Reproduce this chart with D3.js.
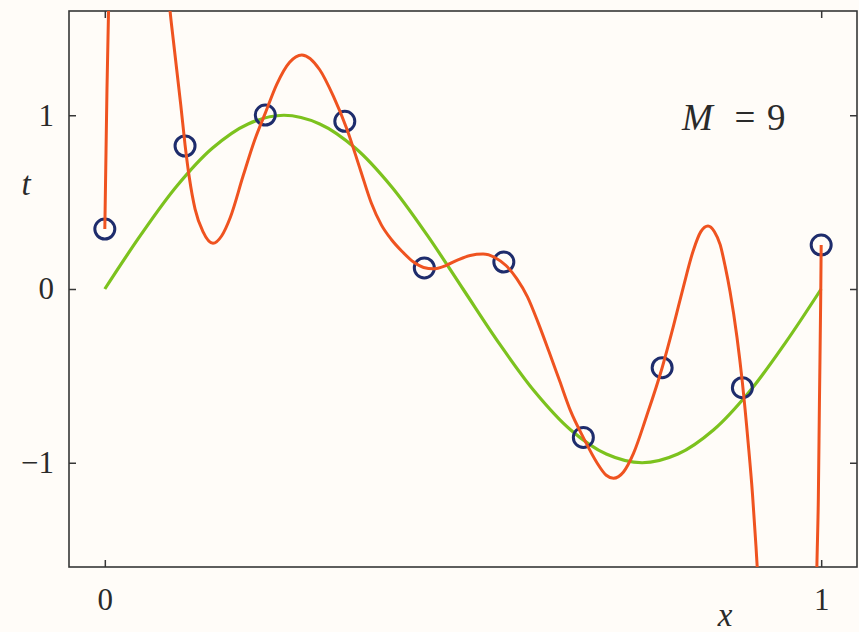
<!DOCTYPE html>
<html>
<head>
<meta charset="utf-8">
<script src="https://cdn.jsdelivr.net/npm/d3@7"></script>
<style>
  html, body { margin: 0; padding: 0; background: #fffcf8; }
  svg { display: block; }
  text { font-family: "Liberation Serif", "Times New Roman", serif; fill: #2a2a2a; }
</style>
</head>
<body>
<svg id="chart" width="859" height="632"></svg>
<script>
// Training observations (x_n, t_n)
const obsX = [0, 0.112, 0.224, 0.335, 0.446, 0.557, 0.668, 0.778, 0.890, 1.0];
const obsT = [0.345, 0.823, 1.001, 0.965, 0.121, 0.155, -0.854, -0.453, -0.568, 0.253];

// Underlying curve (green), sampled along x
const trueX = [0, 0.05, 0.1, 0.15, 0.2, 0.25, 0.3, 0.35, 0.4, 0.45, 0.5,
               0.55, 0.6, 0.65, 0.7, 0.75, 0.8, 0.85, 0.9, 0.95, 1.0];
const trueT = [0, 0.31, 0.59, 0.81, 0.95, 1.0, 0.95, 0.81, 0.59, 0.31, 0,
               -0.31, -0.59, -0.81, -0.95, -1.0, -0.95, -0.81, -0.59, -0.31, 0];

// Fitted M = 9 polynomial (red), in three visible stretches; the curve
// leaves the frame between them, so each stretch runs a little past the edge.
const fitLeftX = [0, 0.0017, 0.0030, 0.0052, 0.0075];
const fitLeftT = [0.345, 0.80, 1.145, 1.60, 2.00];

const fitMidX = [0.0885, 0.0911, 0.0956, 0.106, 0.112, 0.118, 0.126, 0.137, 0.151,
                 0.163, 0.175, 0.193, 0.209, 0.224, 0.240, 0.258, 0.275,
                 0.300, 0.319, 0.338, 0.357, 0.372, 0.386, 0.400, 0.415, 0.431, 0.445, 0.4585,
                 0.476, 0.493, 0.510, 0.528,
                 0.545, 0.560, 0.575, 0.590, 0.605, 0.620, 0.635, 0.650, 0.668, 0.687, 0.700, 0.710,
                 0.724, 0.738, 0.756, 0.778, 0.794, 0.8075, 0.8215, 0.832, 0.842,
                 0.851, 0.859, 0.866, 0.8727, 0.8825, 0.8899, 0.8982, 0.9041, 0.9090, 0.9107, 0.913];
const fitMidT = [1.72, 1.60, 1.433, 1.06, 0.83, 0.64, 0.46, 0.33, 0.263,
                 0.305, 0.41, 0.65, 0.855, 1.012, 1.178, 1.305, 1.347,
                 1.262, 1.110, 0.920, 0.6825, 0.495, 0.369, 0.285, 0.216, 0.155, 0.124, 0.116,
                 0.135, 0.168, 0.193, 0.201,
                 0.180, 0.135, 0.06, -0.045, -0.195, -0.36, -0.53, -0.70, -0.855, -1.0, -1.072, -1.089,
                 -1.053, -0.946, -0.735, -0.453, -0.210, 0.01, 0.222, 0.330, 0.363,
                 0.330, 0.255, 0.13, -0.013, -0.279, -0.535, -0.891, -1.180, -1.482, -1.60, -1.75];

const fitRightX = [0.9925, 0.994, 0.996, 0.9976, 0.9993, 1.0];
const fitRightT = [-2.0, -1.60, -1.214, -0.639, -0.063, 0.253];

const xTicks = [0, 1];
const yTicks = [-1, 0, 1];
const modelOrder = "9";

const svg = d3.select("#chart");
const L = 69, R = 857, T = 11, B = 567;

const x = d3.scaleLinear().domain([-0.05, 1.05]).range([L, R]);
const y = d3.scaleLinear().domain([-1.6, 1.6]).range([B, T]);

svg.append("defs").append("clipPath").attr("id", "plotArea")
  .append("rect").attr("x", L).attr("y", T).attr("width", R - L).attr("height", B - T);

const axisColor = "#363636";
const fontSize = 31;

// Axes: inward ticks on all four sides
const gBottom = svg.append("g").attr("transform", `translate(0,${B})`)
  .call(d3.axisBottom(x).tickValues(xTicks).tickSize(-7).tickPadding(21).tickFormat(d3.format("d")));
const gTop = svg.append("g").attr("transform", `translate(0,${T})`)
  .call(d3.axisTop(x).tickValues(xTicks).tickSize(-7).tickFormat(""));
const gLeft = svg.append("g").attr("transform", `translate(${L},0)`)
  .call(d3.axisLeft(y).tickValues(yTicks).tickSize(-7).tickPadding(15).tickFormat(d3.format("d")));
const gRight = svg.append("g").attr("transform", `translate(${R},0)`)
  .call(d3.axisRight(y).tickValues(yTicks).tickSize(-7).tickFormat(""));

[gBottom, gTop, gLeft, gRight].forEach(g => {
  g.select(".domain").remove();
  g.selectAll(".tick line").attr("stroke", axisColor).attr("stroke-width", 1.5);
  g.selectAll(".tick text").attr("font-size", fontSize)
    .attr("font-family", '"Liberation Serif", serif').attr("fill", "#2a2a2a");
});

// Frame
svg.append("rect").attr("x", L).attr("y", T).attr("width", R - L).attr("height", B - T)
  .attr("fill", "none").attr("stroke", axisColor).attr("stroke-width", 1.6);

const plot = svg.append("g").attr("clip-path", "url(#plotArea)");
const zip = (xs, ts) => xs.map((v, i) => [v, ts[i]]);

// Underlying curve
plot.append("path").datum(zip(trueX, trueT))
  .attr("fill", "none").attr("stroke", "#7cc21e").attr("stroke-width", 3.2)
  .attr("d", d3.line().x(d => x(d[0])).y(d => y(d[1])).curve(d3.curveCatmullRom));

// Observations
plot.selectAll("circle.obs").data(zip(obsX, obsT)).join("circle")
  .attr("class", "obs")
  .attr("cx", d => x(d[0])).attr("cy", d => y(d[1])).attr("r", 10)
  .attr("fill", "none").attr("stroke", "#1e2c6c").attr("stroke-width", 3);

// Fitted polynomial
const fitLine = d3.line().x(d => x(d[0])).y(d => y(d[1])).curve(d3.curveMonotoneX);
[zip(fitLeftX, fitLeftT), zip(fitMidX, fitMidT), zip(fitRightX, fitRightT)].forEach(seg => {
  plot.append("path").datum(seg)
    .attr("fill", "none").attr("stroke", "#ef5320").attr("stroke-width", 3)
    .attr("stroke-linejoin", "round")
    .attr("d", fitLine);
});

// Axis titles
svg.append("text").attr("x", 725).attr("y", 626).attr("text-anchor", "middle")
  .attr("font-size", fontSize + 2).attr("font-style", "italic").text("x");
svg.append("text").attr("x", 26).attr("y", 195).attr("text-anchor", "middle")
  .attr("font-size", fontSize + 2).attr("font-style", "italic").text("t");

// Model order annotation
const ann = svg.append("g").attr("font-size", 37);
ann.append("text").attr("x", 682).attr("y", 130).attr("font-style", "italic").text("M");
ann.append("text").attr("x", 745).attr("y", 130).attr("text-anchor", "middle").text("=");
ann.append("text").attr("x", 767).attr("y", 130).text(modelOrder);
</script>
</body>
</html>
